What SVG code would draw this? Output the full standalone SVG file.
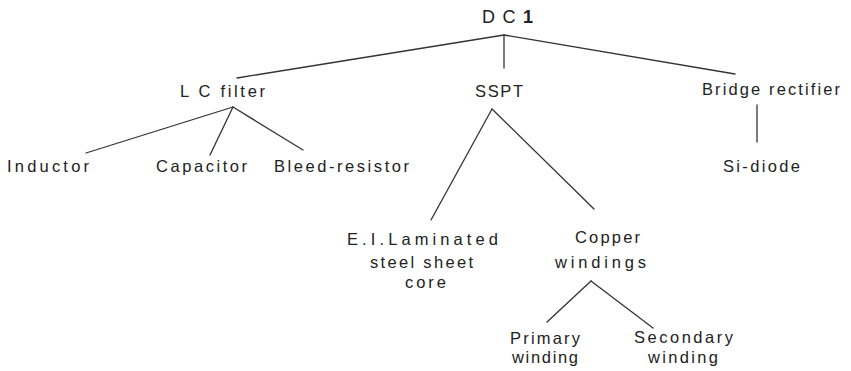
<svg xmlns="http://www.w3.org/2000/svg" width="851" height="371" viewBox="0 0 851 371">
  <style>
    .lbl { font-family: "Liberation Sans", "DejaVu Sans", sans-serif; font-size: 16.5px; fill: #222; }
    .title { font-size: 18px; }
    .edge { stroke: #333; stroke-width: 1.3; fill: none; stroke-linecap: round; }
  </style>
  <rect width="851" height="371" fill="#fff"/>

  <g id="connectors">
    <!-- DC 1 to its three parts -->
    <path class="edge" d="M504 35 L237 78"/>
    <path class="edge" d="M504 35 L504 68"/>
    <path class="edge" d="M504 35 L735 74"/>
    <!-- LC filter parts -->
    <path class="edge" d="M233 107 L86 153"/>
    <path class="edge" d="M233 107 L210 155"/>
    <path class="edge" d="M233 107 L303 150"/>
    <!-- SSPT parts -->
    <path class="edge" d="M492 109 L431 220"/>
    <path class="edge" d="M492 109 L594 209"/>
    <!-- Bridge rectifier -->
    <path class="edge" d="M757 105 L757 142"/>
    <!-- Copper windings -->
    <path class="edge" d="M591 281 L547 322"/>
    <path class="edge" d="M591 281 L653 328"/>
  </g>

  <g id="dc1"><text class="lbl title" x="482" y="23" textLength="51" lengthAdjust="spacing">D C <tspan font-weight="bold">1</tspan></text></g>
  <g id="lc-filter"><text class="lbl" x="180" y="97" textLength="85" lengthAdjust="spacing">L C filter</text></g>
  <g id="sspt"><text class="lbl" x="475" y="97" textLength="48" lengthAdjust="spacing">SSPT</text></g>
  <g id="bridge-rectifier"><text class="lbl" x="702" y="95" textLength="138" lengthAdjust="spacing">Bridge rectifier</text></g>
  <g id="inductor"><text class="lbl" x="7" y="172" textLength="82" lengthAdjust="spacing">Inductor</text></g>
  <g id="capacitor"><text class="lbl" x="156" y="172" textLength="91" lengthAdjust="spacing">Capacitor</text></g>
  <g id="bleed-resistor"><text class="lbl" x="274" y="172" textLength="135" lengthAdjust="spacing">Bleed-resistor</text></g>
  <g id="si-diode"><text class="lbl" x="723" y="172" textLength="77" lengthAdjust="spacing">Si-diode</text></g>
  <g id="ei-core">
    <text class="lbl" x="347" y="245" textLength="151" lengthAdjust="spacing">E.I.Laminated</text>
    <text class="lbl" x="370" y="268" textLength="103" lengthAdjust="spacing">steel sheet</text>
    <text class="lbl" x="405" y="288" textLength="41" lengthAdjust="spacing">core</text>
  </g>
  <g id="copper-windings">
    <text class="lbl" x="575" y="243" textLength="65" lengthAdjust="spacing">Copper</text>
    <text class="lbl" x="555" y="268" textLength="91" lengthAdjust="spacing">windings</text>
  </g>
  <g id="primary-winding">
    <text class="lbl" x="510" y="344" textLength="70" lengthAdjust="spacing">Primary</text>
    <text class="lbl" x="512" y="363" textLength="66" lengthAdjust="spacing">winding</text>
  </g>
  <g id="secondary-winding">
    <text class="lbl" x="634" y="343" textLength="99" lengthAdjust="spacing">Secondary</text>
    <text class="lbl" x="648" y="363" textLength="70" lengthAdjust="spacing">winding</text>
  </g>
</svg>
